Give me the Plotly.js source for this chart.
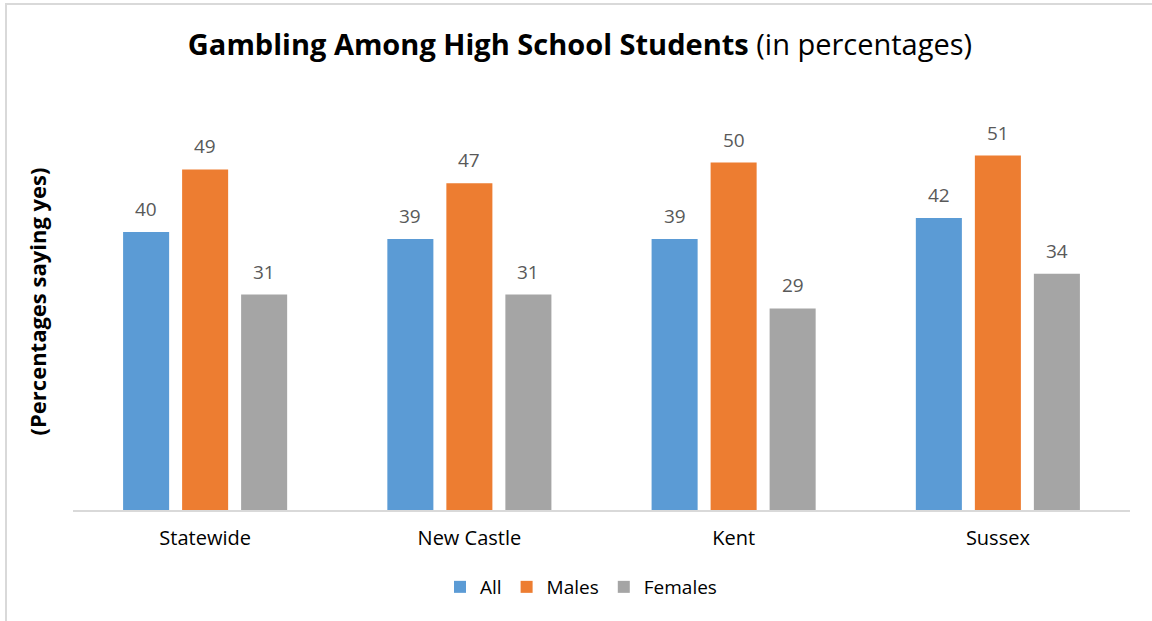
<!DOCTYPE html>
<html>
<head>
<meta charset="utf-8">
<script src="https://cdn.plot.ly/plotly-3.0.1.min.js"></script>
<style>
  html, body { margin: 0; padding: 0; background: #ffffff; overflow: hidden; }
  #frame { position: absolute; left: 5px; top: 3px; width: 1300px; height: 800px;
           border-left: 2px solid #d9d9d9; border-top: 2px solid #d9d9d9; box-sizing: border-box; }
  #chart { position: absolute; left: 0; top: 0; width: 1152px; height: 621px; }
</style>
</head>
<body>
<div id="frame"></div>
<div id="chart"></div>
<script>
const categories = ["Statewide", "New Castle", "Kent", "Sussex"];
const seriesNames = ["All", "Males", "Females"];
const allValues = [40, 39, 39, 42];
const maleValues = [49, 47, 50, 51];
const femaleValues = [31, 31, 29, 34];
const colors = ["#5B9BD5", "#ED7D31", "#A5A5A5"];

const series = [allValues, maleValues, femaleValues];
const FONT = "Open Sans, Noto Sans, sans-serif";

const traces = series.map((vals, i) => ({
  type: "bar",
  name: seriesNames[i],
  x: categories,
  y: vals,
  marker: { color: colors[i], line: { width: 0 } },
  hoverinfo: "x+y+name"
}));

// plot geometry (for label offsets)
const W = 1152, marginL = 73, marginR = 22;
const plotW = W - marginL - marginR;
const bargap = 0.33, bargroupgap = 0.22;
const slot = (plotW / categories.length) * (1 - bargap) / series.length;

const annotations = [];
series.forEach((vals, i) => {
  vals.forEach((v, j) => {
    annotations.push({
      x: categories[j], y: v, xref: "x", yref: "y",
      text: String(v), showarrow: false,
      xshift: (i - 1) * slot, yshift: 23,
      yanchor: "middle",
      font: { family: FONT, size: 19, color: "#595959" }
    });
  });
});

const layout = {
  width: 1152, height: 621,
  paper_bgcolor: "rgba(0,0,0,0)",
  plot_bgcolor: "rgba(0,0,0,0)",
  margin: { l: marginL, r: marginR, t: 93, b: 111, pad: 0 },
  barmode: "group",
  bargap: bargap,
  bargroupgap: bargroupgap,
  font: { family: FONT, color: "#000000" },
  title: {
    text: "<b>Gambling Among High School Students</b> (in percentages)",
    font: { family: FONT, size: 29, color: "#000000" },
    x: 580 / 1152, xref: "container", xanchor: "center",
    y: 1 - 45 / 621, yref: "container", yanchor: "middle"
  },
  xaxis: {
    type: "category",
    showline: true, linecolor: "#d9d9d9", linewidth: 2,
    ticks: "outside", ticklen: 9, tickcolor: "rgba(0,0,0,0)",
    tickfont: { family: FONT, size: 20, color: "#000000" },
    showgrid: false, zeroline: false, fixedrange: true
  },
  yaxis: {
    range: [0, 60],
    showticklabels: false, showgrid: false, zeroline: false, showline: false,
    ticks: "",
    title: {
      text: "<b>(Percentages saying yes)</b>",
      font: { family: FONT, size: 22, color: "#000000" },
      standoff: 19
    },
    fixedrange: true
  },
  showlegend: true,
  legend: {
    orientation: "h",
    x: (581 - marginL) / plotW, xanchor: "center",
    y: -(587 - 510) / (621 - 93 - 111), yanchor: "middle",
    font: { family: FONT, size: 19, color: "#000000" },
    itemwidth: 30, traceorder: "normal",
    bgcolor: "rgba(0,0,0,0)"
  },
  annotations: annotations
};

Plotly.newPlot("chart", traces, layout, { displayModeBar: false, staticPlot: true });
</script>
</body>
</html>
